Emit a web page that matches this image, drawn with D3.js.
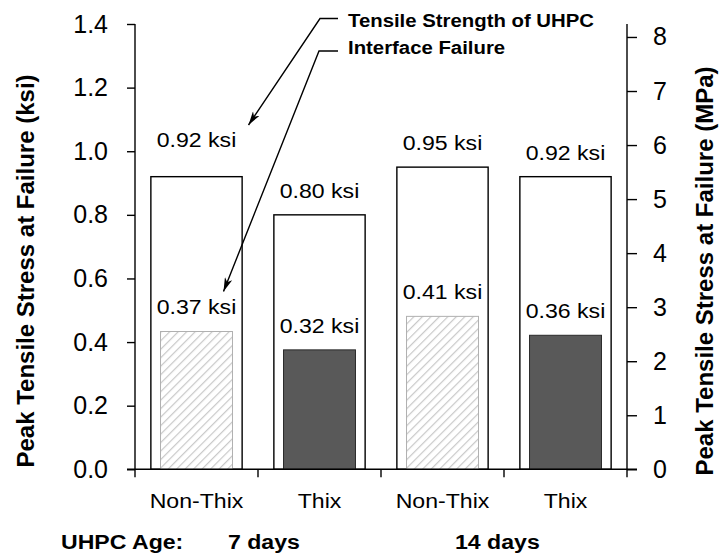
<!DOCTYPE html>
<html><head><meta charset="utf-8">
<script src="https://cdn.jsdelivr.net/npm/d3@7/dist/d3.min.js"></script>
<style>body{margin:0;background:#fff}svg{display:block}text{font-family:"Liberation Sans",Arial,sans-serif}</style>
</head><body><svg id="c" width="719" height="558"></svg>
<script>
// ---- data ----
const categories = ["Non-Thix", "Thix", "Non-Thix", "Thix"];
const tensileKsi = [0.92, 0.80, 0.95, 0.92];      // Tensile Strength of UHPC (left axis, ksi)
const interfaceKsi = [0.37, 0.32, 0.41, 0.36];    // Interface Failure (labels, ksi)
const interfaceMPa = [2.55, 2.21, 2.83, 2.48];    // Interface Failure plotted on right axis (MPa)
const interfaceStyle = ["hatch", "solid", "hatch", "solid"];
const leftTicks = [0, 0.2, 0.4, 0.6, 0.8, 1.0, 1.2, 1.4];
const rightTicks = [0, 1, 2, 3, 4, 5, 6, 7, 8];
const ages = ["7 days", "14 days"];

const svg = d3.select("#c");
const L = 135, R = 627, T = 24, B = 469.3;
const x = d3.scaleBand().domain(d3.range(categories.length)).range([L, R]).paddingInner(0).paddingOuter(0);
const yL = d3.scaleLinear().domain([0, 1.4]).range([B, T]);
const yR = d3.scaleLinear().domain([0, 8.24]).range([B, T]);
const outerW = x.bandwidth() * 0.742, innerW = x.bandwidth() * 0.585;
const SX = 1.1;

// pattern
const defs = svg.append("defs");
const pat = defs.append("pattern").attr("id", "hatch").attr("patternUnits", "userSpaceOnUse")
  .attr("width", 6).attr("height", 6).attr("patternTransform", "rotate(45)");
pat.append("rect").attr("width", 6).attr("height", 6).attr("fill", "#fff");
pat.append("line").attr("x1", 0).attr("y1", 0).attr("x2", 0).attr("y2", 6).attr("stroke", "#c8c8c8").attr("stroke-width", 2.4);
const mk = defs.append("marker").attr("id", "arr").attr("viewBox", "0 0 14 8").attr("refX", 14).attr("refY", 4)
  .attr("markerWidth", 14).attr("markerHeight", 8).attr("markerUnits", "userSpaceOnUse").attr("orient", "auto");
mk.append("path").attr("d", "M0,0 L14,4 L0,8 L4,4 Z").attr("fill", "#000");

function txt(g, xx, yy, s, size, anchor, weight) {
  return g.append("text").attr("transform", `translate(${xx},${yy}) scale(${SX},1)`)
    .attr("text-anchor", anchor || "middle").attr("font-size", size).attr("font-weight", weight || "normal")
    .attr("fill", "#000").text(s);
}

// outer bars
svg.selectAll(".ob").data(tensileKsi).join("rect")
  .attr("x", (d, i) => x(i) + (x.bandwidth() - outerW) / 2).attr("width", outerW)
  .attr("y", d => yL(d)).attr("height", d => yL(0) - yL(d))
  .attr("fill", "#fff").attr("stroke", "#000").attr("stroke-width", 1.4);
// inner bars
svg.selectAll(".ib").data(interfaceMPa).join("rect")
  .attr("x", (d, i) => x(i) + (x.bandwidth() - innerW) / 2).attr("width", innerW)
  .attr("y", d => yR(d)).attr("height", d => yR(0) - yR(d))
  .attr("fill", (d, i) => interfaceStyle[i] === "hatch" ? "url(#hatch)" : "#595959")
  .attr("stroke", (d, i) => interfaceStyle[i] === "hatch" ? "#b0b0b0" : "#2a2a2a").attr("stroke-width", 1);

// value labels
const lift = [13, 0, 0, 0];
tensileKsi.forEach((d, i) => txt(svg, x(i) + x.bandwidth() / 2, yL(d) - 17 - lift[i], d.toFixed(2) + " ksi", 21));
interfaceKsi.forEach((d, i) => txt(svg, x(i) + x.bandwidth() / 2, yR(interfaceMPa[i]) - 17, d.toFixed(2) + " ksi", 21));

// axes
const gl = svg.append("g").attr("transform", `translate(${L},0)`)
  .call(d3.axisLeft(yL).tickValues(leftTicks).tickFormat(d3.format(".1f")).tickSize(8).tickPadding(19));
const gr = svg.append("g").attr("transform", `translate(${R},0)`)
  .call(d3.axisRight(yR).tickValues(rightTicks).tickFormat(d3.format("d")).tickSize(10).tickPadding(16));
[gl, gr].forEach(g => {
  g.select(".domain").attr("d", `M0,${T}V${B}`).attr("stroke-width", 1.4);
  g.selectAll(".tick line").attr("stroke-width", 1.4);
  g.selectAll(".tick text").attr("font-size", 25).attr("font-family", "Liberation Sans, Arial, sans-serif")
    .attr("fill", "#000");
});
const gx = svg.append("g").attr("transform", `translate(0,${B})`)
  .call(d3.axisBottom(x).tickValues([]).tickSize(0));
gx.select(".domain").attr("d", `M${L - 8},0H${R + 10}`).attr("stroke-width", 1.4);
const bounds = [L].concat(d3.range(categories.length).map(i => x(i) + x.bandwidth()));
gx.selectAll(".bt").data(bounds).join("line").attr("x1", d => d).attr("x2", d => d)
  .attr("y1", 0).attr("y2", 8).attr("stroke", "#000").attr("stroke-width", 1.4);
categories.forEach((c, i) => txt(svg, x(i) + x.bandwidth() / 2, 508, c, 21));

// bottom labels
txt(svg, 61, 549, "UHPC Age:", 21, "start", "bold");
txt(svg, 228, 549, ages[0], 21, "start", "bold");
txt(svg, 455, 549, ages[1], 21, "start", "bold");

// axis titles
svg.append("text").attr("transform", `translate(34,271) rotate(-90)`).attr("text-anchor", "middle")
  .attr("font-size", 24).attr("font-weight", "bold").text("Peak Tensile Stress at Failure (ksi)");
svg.append("text").attr("transform", `translate(713,271) rotate(-90)`).attr("text-anchor", "middle")
  .attr("font-size", 24).attr("font-weight", "bold").text("Peak Tensile Stress at Failure (MPa)");

// annotations
svg.append("path").attr("d", "M338,18.5H320L248.5,125").attr("fill", "none").attr("stroke", "#000")
  .attr("stroke-width", 1.4).attr("marker-end", "url(#arr)");
svg.append("path").attr("d", "M338,51H319L223.5,291.5").attr("fill", "none").attr("stroke", "#000")
  .attr("stroke-width", 1.4).attr("marker-end", "url(#arr)");
txt(svg, 348, 27, "Tensile Strength of UHPC", 18.5, "start", "bold");
txt(svg, 348, 54, "Interface Failure", 18.5, "start", "bold");
</script></body></html>
